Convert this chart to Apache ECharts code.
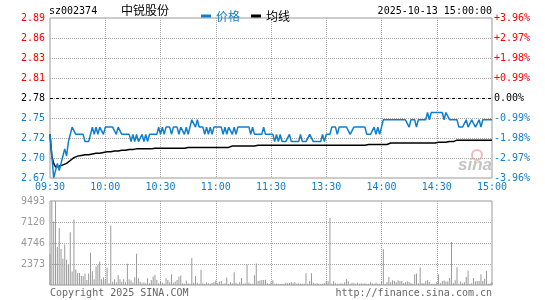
<!DOCTYPE html>
<html>
<head>
<meta charset="UTF-8">
<title>中锐股份 分时</title>
<script src="https://cdn.jsdelivr.net/npm/echarts@6.0.0/dist/echarts.min.js"></script>
<style>html,body{margin:0;padding:0;background:#fff;}</style>
</head>
<body>
<div id="main" style="width:545px;height:300px;"></div>
<script type="text/javascript">
var preClose = 2.78;
var priceTicks = ['2.67', '2.70', '2.72', '2.75', '2.78', '2.81', '2.83', '2.86', '2.89'];
var pctTicks = ['-3.96%', '-2.97%', '-1.98%', '-0.99%', '0.00%', '+0.99%', '+1.98%', '+2.97%', '+3.96%'];
var volTicks = ['', '2373', '4746', '7120', '9493'];
var timeTicks = ['09:30', '10:00', '10:30', '11:00', '11:30', '13:30', '14:00', '14:30', '15:00'];

// 每分钟价格
var price = [
    2.73,2.70,2.67,2.68,2.69,2.68,2.69,2.70,2.71,2.70,
    2.72,2.73,2.74,2.74,2.73,2.73,2.73,2.73,2.73,2.72,
    2.72,2.72,2.73,2.74,2.73,2.74,2.73,2.74,2.74,2.73,
    2.74,2.74,2.74,2.74,2.74,2.74,2.73,2.74,2.74,2.73,
    2.73,2.73,2.73,2.73,2.72,2.73,2.72,2.73,2.72,2.72,
    2.73,2.72,2.73,2.72,2.73,2.73,2.73,2.73,2.73,2.74,
    2.73,2.74,2.73,2.74,2.74,2.74,2.73,2.74,2.74,2.74,
    2.73,2.74,2.74,2.73,2.74,2.73,2.74,2.75,2.75,2.74,
    2.75,2.74,2.74,2.74,2.73,2.74,2.73,2.74,2.73,2.74,
    2.74,2.74,2.74,2.74,2.73,2.74,2.73,2.74,2.74,2.73,
    2.74,2.73,2.74,2.74,2.74,2.74,2.74,2.74,2.74,2.73,
    2.74,2.73,2.73,2.73,2.73,2.73,2.74,2.73,2.73,2.73,
    2.73,2.73,2.72,2.73,2.72,2.73,2.72,2.72,2.72,2.72,
    2.73,2.72,2.72,2.72,2.72,2.72,2.73,2.72,2.72,2.72,
    2.72,2.73,2.73,2.72,2.72,2.72,2.72,2.72,2.73,2.72,
    2.73,2.73,2.73,2.74,2.74,2.74,2.73,2.74,2.74,2.74,
    2.74,2.74,2.74,2.73,2.73,2.74,2.74,2.74,2.74,2.74,
    2.74,2.74,2.73,2.73,2.73,2.73,2.74,2.73,2.74,2.73,
    2.74,2.75,2.75,2.75,2.75,2.75,2.75,2.75,2.75,2.75,
    2.75,2.75,2.75,2.75,2.75,2.74,2.75,2.75,2.75,2.74,
    2.75,2.75,2.75,2.75,2.75,2.76,2.75,2.76,2.76,2.76,
    2.76,2.76,2.76,2.76,2.75,2.76,2.76,2.75,2.75,2.75,
    2.75,2.75,2.74,2.74,2.74,2.74,2.75,2.74,2.74,2.75,
    2.75,2.74,2.74,2.75,2.74,2.75,2.75,2.75,2.75,2.75,
    2.75
];

// 均价
var avgPrice = [
    2.730,2.700,2.690,2.685,2.685,2.686,2.687,2.688,2.689,2.690,
    2.692,2.694,2.696,2.698,2.699,2.700,2.700,2.701,2.701,2.702,
    2.702,2.702,2.703,2.703,2.703,2.704,2.704,2.704,2.705,2.705,
    2.705,2.706,2.706,2.706,2.707,2.707,2.707,2.707,2.708,2.708,
    2.708,2.708,2.708,2.709,2.709,2.709,2.710,2.710,2.710,2.710,
    2.710,2.710,2.710,2.710,2.710,2.710,2.711,2.711,2.711,2.711,
    2.711,2.711,2.711,2.711,2.711,2.711,2.711,2.711,2.711,2.711,
    2.711,2.711,2.711,2.711,2.711,2.712,2.712,2.712,2.712,2.712,
    2.712,2.712,2.712,2.712,2.712,2.712,2.712,2.712,2.712,2.712,
    2.712,2.712,2.712,2.712,2.712,2.712,2.712,2.712,2.712,2.714,
    2.714,2.714,2.714,2.714,2.714,2.714,2.714,2.714,2.714,2.714,
    2.714,2.714,2.715,2.715,2.715,2.715,2.715,2.715,2.715,2.715,
    2.715,2.715,2.715,2.715,2.715,2.715,2.715,2.715,2.715,2.715,
    2.715,2.715,2.715,2.715,2.715,2.715,2.715,2.715,2.715,2.715,
    2.715,2.715,2.715,2.715,2.715,2.715,2.715,2.715,2.715,2.715,
    2.715,2.715,2.715,2.715,2.715,2.715,2.715,2.715,2.715,2.715,
    2.715,2.715,2.715,2.715,2.715,2.715,2.715,2.715,2.715,2.715,
    2.715,2.715,2.715,2.716,2.716,2.716,2.716,2.716,2.716,2.716,
    2.716,2.716,2.716,2.716,2.716,2.718,2.718,2.718,2.718,2.718,
    2.718,2.718,2.718,2.718,2.718,2.718,2.718,2.718,2.718,2.718,
    2.718,2.718,2.718,2.718,2.718,2.718,2.718,2.718,2.718,2.718,
    2.719,2.719,2.719,2.719,2.719,2.719,2.719,2.720,2.720,2.720,
    2.722,2.722,2.722,2.722,2.722,2.722,2.722,2.722,2.722,2.722,
    2.722,2.722,2.722,2.722,2.722,2.722,2.722,2.722,2.722,2.722,
    2.722
];

// 成交量(手)
var volume = [
    3530,12000,7180,11500,4290,6450,4060,2960,4590,2850,
    2280,5960,1520,7400,1750,1370,1370,1025,1025,1290,
    570,1290,3680,1560,650,2090,2280,2660,650,870,
    650,1970,190,6720,380,650,300,1140,650,380,
    650,300,2390,650,500,270,870,3530,760,380,
    190,300,200,760,190,570,950,1140,570,190,
    450,250,150,760,570,300,1215,250,380,570,
    950,1060,190,150,500,190,150,3040,250,1025,
    250,150,1710,190,150,300,190,150,250,300,
    500,190,380,450,150,200,840,150,300,190,
    1440,250,150,300,800,150,190,2320,250,150,
    150,1100,2430,450,500,570,570,600,200,150,
    300,530,150,130,150,120,130,150,250,190,
    230,300,200,300,150,190,130,150,150,1330,
    150,450,1330,250,150,190,150,130,150,190,
    420,420,7600,150,420,190,130,150,190,150,
    300,650,420,150,250,190,130,250,150,200,
    130,190,150,130,300,190,150,250,130,150,
    420,4060,150,350,910,300,530,450,300,530,
    450,450,230,300,420,340,230,150,1215,1290,
    190,1975,230,190,420,530,340,150,130,150,
    340,1180,190,460,500,400,400,800,4860,230,
    530,2010,150,400,190,300,910,1600,150,190,
    800,400,450,450,1215,450,700,1600,150,190,
    300
];

// 分钟时间轴 09:30-11:30, 13:01-15:00
var minutes = [];
function pad(n) { return n < 10 ? '0' + n : '' + n; }
for (var m = 9 * 60 + 30; m <= 11 * 60 + 30; m++) minutes.push(pad(Math.floor(m / 60)) + ':' + pad(m % 60));
for (var m2 = 13 * 60 + 1; m2 <= 15 * 60; m2++) minutes.push(pad(Math.floor(m2 / 60)) + ':' + pad(m2 % 60));

function toPct(p) { return (p / preClose - 1) * 100; }
function tickIndex(v) { return Math.round((v + 3.96) / 0.99); }
function labelColor(v) {
    if (v > 0.001) return '#ff0000';
    if (v < -0.001) return '#0e7fd0';
    return '#000';
}

var mono = 'DejaVu Sans Mono';
var blue = '#0e7fd0';
var dotted = { color: '#aaa', type: 'dotted', width: 1 };

var myChart = echarts.init(document.getElementById('main'));
myChart.setOption({
    animation: false,
    backgroundColor: '#fff',
    legend: {
        left: 196, top: 5,
        icon: 'rect', itemWidth: 10, itemHeight: 3, itemGap: 11,
        textStyle: { fontSize: 12, fontFamily: 'Noto Sans CJK SC' },
        data: [
            { name: '价格', textStyle: { color: blue } },
            { name: '均线', textStyle: { color: '#000' } }
        ]
    },
    graphic: [
        { type: 'text', left: 49, top: 6, style: { text: 'sz002374', fontSize: 10, fontFamily: mono, fill: '#000' } },
        { type: 'text', left: 121, top: 4, style: { text: '中锐股份', fontSize: 12, fontFamily: 'Noto Sans CJK SC', fill: '#000' } },
        { type: 'text', right: 53, top: 6, style: { text: '2025-10-13 15:00:00', fontSize: 10, fontFamily: mono, fill: '#000' } },
        { type: 'text', left: 50, top: 288, style: { text: 'Copyright 2025 SINA.COM', fontSize: 10, fontFamily: mono, fill: '#666' } },
        { type: 'text', right: 53, top: 288, style: { text: 'http://finance.sina.com.cn', fontSize: 10, fontFamily: mono, fill: '#666' } },
        { type: 'circle', shape: { cx: 477, cy: 155, r: 5 }, style: { fill: 'none', stroke: '#f2b8b8', lineWidth: 2 }, z: 0 },
        { type: 'text', left: 458, top: 157, style: { text: 'sina', fontSize: 17, fontWeight: 'bold', fontStyle: 'italic', fontFamily: 'Liberation Sans', fill: '#c4c4c4' }, z: 0 }
    ],
    grid: [
        { left: 50, right: 53, top: 18, height: 160, show: true, borderColor: '#999', borderWidth: 1 },
        { left: 50, right: 53, top: 201, height: 84, show: true, borderColor: '#999', borderWidth: 1 }
    ],
    xAxis: [
        {
            type: 'category', gridIndex: 0, data: minutes, boundaryGap: false,
            axisLine: { show: false }, axisTick: { show: false },
            axisLabel: {
                interval: 29, margin: 4, fontSize: 10, fontFamily: mono, color: blue,
                formatter: function (v, i) { return timeTicks[i / 30] || ''; }
            },
            splitLine: { show: true, interval: 29, showMinLine: false, showMaxLine: false, lineStyle: dotted }
        },
        {
            type: 'category', gridIndex: 1, data: minutes, boundaryGap: false,
            axisLine: { show: false }, axisTick: { show: false }, axisLabel: { show: false },
            splitLine: { show: true, interval: 29, showMinLine: false, showMaxLine: false, lineStyle: dotted }
        }
    ],
    yAxis: [
        {
            type: 'value', gridIndex: 0, position: 'left', min: -3.96, max: 3.96, interval: 0.99,
            axisLine: { show: false }, axisTick: { show: false },
            axisLabel: {
                margin: 5, fontSize: 10, fontFamily: mono,
                formatter: function (v) { return priceTicks[tickIndex(v)]; },
                color: function (v) { return labelColor(Number(v)); }
            },
            splitLine: { show: true, showMinLine: false, showMaxLine: false, lineStyle: dotted }
        },
        {
            type: 'value', gridIndex: 0, position: 'right', min: -3.96, max: 3.96, interval: 0.99,
            axisLine: { show: false }, axisTick: { show: false },
            axisLabel: {
                margin: 2, fontSize: 10, fontFamily: mono,
                formatter: function (v) { return pctTicks[tickIndex(v)]; },
                color: function (v) { return labelColor(Number(v)); }
            },
            splitLine: { show: false }
        },
        {
            type: 'value', gridIndex: 1, min: 0, max: 9493, interval: 9493 / 4,
            axisLine: { show: false }, axisTick: { show: false },
            axisLabel: {
                margin: 5, fontSize: 10, fontFamily: mono, color: '#999',
                formatter: function (v) { return volTicks[Math.round(v / (9493 / 4))]; }
            },
            splitLine: { show: true, showMinLine: false, showMaxLine: false, lineStyle: dotted }
        }
    ],
    series: [
        {
            name: '价格', type: 'line', xAxisIndex: 0, yAxisIndex: 0,
            data: price.map(toPct), symbol: 'none',
            itemStyle: { color: blue }, lineStyle: { color: blue, width: 1.5 },
            markLine: {
                silent: true, symbol: 'none', label: { show: false },
                lineStyle: { color: '#000', type: [3, 3], width: 1 },
                data: [{ yAxis: 0 }]
            },
            z: 3
        },
        {
            name: '均线', type: 'line', xAxisIndex: 0, yAxisIndex: 0,
            data: avgPrice.map(toPct), symbol: 'none',
            itemStyle: { color: '#000' }, lineStyle: { color: '#000', width: 1.5 },
            z: 2
        },
        {
            type: 'bar', xAxisIndex: 1, yAxisIndex: 2,
            data: volume, barWidth: 1, clip: true,
            itemStyle: { color: '#999' }
        }
    ]
});
</script>
</body>
</html>
